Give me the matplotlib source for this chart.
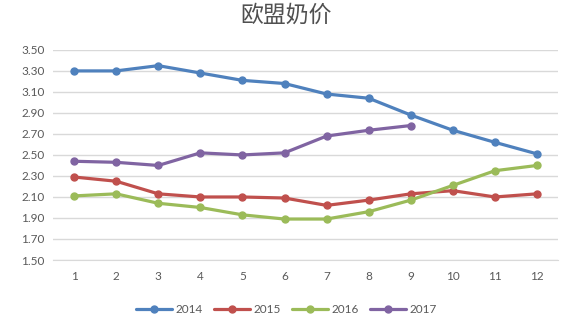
import matplotlib
matplotlib.use("Agg")
import matplotlib.pyplot as plt

plt.rcParams['font.family'] = ['Lato', 'Noto Sans CJK SC', 'DejaVu Sans']

months = list(range(1, 13))
price_2014 = [3.30, 3.30, 3.35, 3.28, 3.21, 3.18, 3.08, 3.04, 2.88, 2.735, 2.62, 2.51]
price_2015 = [2.29, 2.25, 2.13, 2.10, 2.10, 2.09, 2.02, 2.07, 2.13, 2.16, 2.10, 2.13]
price_2016 = [2.11, 2.13, 2.04, 2.00, 1.93, 1.89, 1.89, 1.96, 2.07, 2.21, 2.35, 2.40]
price_2017 = [2.44, 2.43, 2.40, 2.52, 2.50, 2.52, 2.68, 2.735, 2.78]
yticks = [1.50, 1.70, 1.90, 2.10, 2.30, 2.50, 2.70, 2.90, 3.10, 3.30, 3.50]

series = [
    ('2014', price_2014, '#4F81BD'),
    ('2015', price_2015, '#C0504D'),
    ('2016', price_2016, '#9BBB59'),
    ('2017', price_2017, '#8064A2'),
]

fig = plt.figure(figsize=(5.73, 3.24), dpi=100)
ax = fig.add_axes([0.0925, 0.1975, 0.8815, 0.6485])

for label, values, color in series:
    ax.plot(months[:len(values)], values, '-o', color=color, linewidth=2.3,
            markersize=5, label=label, solid_capstyle='round')

ax.set_xlim(0.5, 12.5)
ax.set_ylim(1.50, 3.50)
ax.set_yticks(yticks)
ax.set_yticklabels([f'{v:.2f}' for v in yticks])
ax.set_xticks(months)
ax.grid(axis='y', color='#D9D9D9', linewidth=1)
ax.set_axisbelow(True)
for side in ['top', 'right', 'left']:
    ax.spines[side].set_visible(False)
ax.spines['bottom'].set_color('#D9D9D9')
ax.tick_params(axis='both', length=0, labelsize=8.5, colors='#595959', pad=8)
ax.tick_params(axis='y', pad=6)

fig.text(0.5, 0.952, '欧盟奶价', ha='center', va='center', fontsize=16.5,
         color='#505050', family=['Noto Sans CJK SC'], fontweight='normal')

fig.legend(loc='center', bbox_to_anchor=(0.5, 0.045), ncol=4, frameon=False,
           fontsize=8.5, handlelength=3.0, columnspacing=1.0, handletextpad=0.3,
           labelcolor='#595959')

fig.savefig('out.png', dpi=100)
